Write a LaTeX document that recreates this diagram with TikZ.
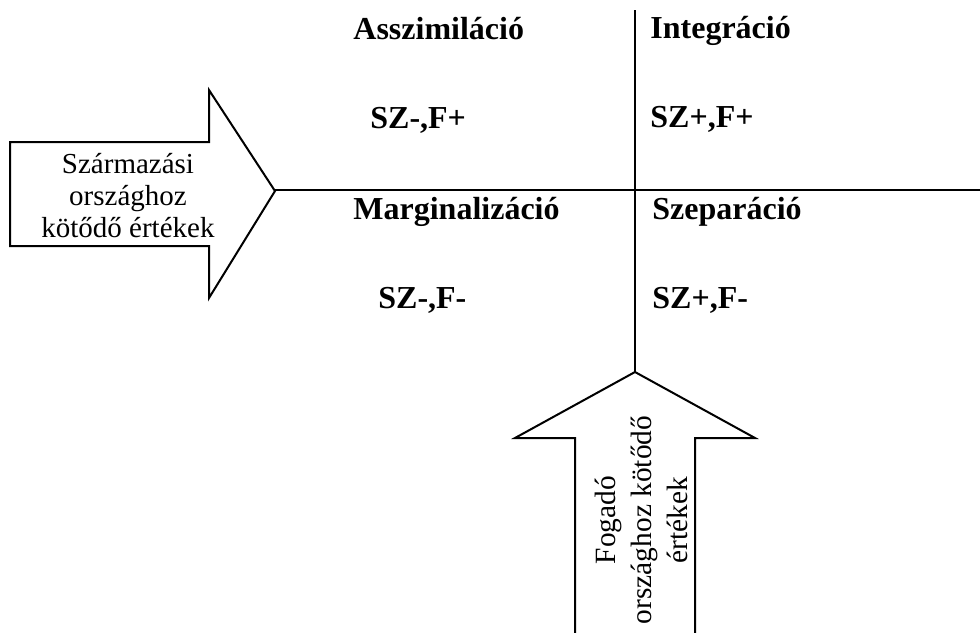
\documentclass[tikz,border=0pt]{standalone}
\usepackage{fontspec}
\setmainfont{Liberation Serif}
\begin{document}
\begin{tikzpicture}[x=0.5pt,y=-0.5pt,
  lbl/.style={anchor=base west,inner sep=0pt,font=\fontsize{16}{19}\selectfont\bfseries},
  arrtxt/.style={align=center,inner sep=0pt,font=\fontsize{14.5}{16}\selectfont},
  arrtxtb/.style={align=center,inner sep=0pt,font=\fontsize{14.7}{18}\selectfont},
  outline/.style={draw=black,line width=1pt,line join=miter},
  axis/.style={draw=black,line width=1.2pt}]
\useasboundingbox (0,0) rectangle (980,632);
% left arrow
\draw[outline] (10,142) -- (209,142) -- (209,90) -- (275,191) -- (209,298) -- (209,246) -- (10,246) -- cycle;
\coordinate (ltip) at (275,190);
\node[arrtxt] (ltext) at (128,196) {Származási\\országhoz\\kötődő értékek};
% bottom arrow
\draw[outline] (575,640) -- (575,438) -- (515,438) -- (635,372) -- (755,438) -- (695,438) -- (695,640);
\coordinate (btip) at (635,372);
\node[arrtxtb,rotate=90] (btext) at (641,520) {Fogadó\\országhoz kötődő\\értékek};
% axes
\coordinate (vtop) at (635,10);
\coordinate (hend) at (980,190);
\draw[axis] (vtop) -- (btip);
\draw[axis] (ltip) -- (hend);
% labels
\node[lbl] (asz) at (353,39) {Asszimiláció};
\node[lbl] (int) at (650,38) {Integráció};
\node[lbl] (szfp) at (370,128) {SZ-,F+};
\node[lbl] (szpp) at (650,127) {SZ+,F+};
\node[lbl] (mar) at (353,219) {Marginalizáció};
\node[lbl] (sze) at (652,219) {Szeparáció};
\node[lbl] (szmm) at (378,308) {SZ-,F-};
\node[lbl] (szpm) at (652,308) {SZ+,F-};
\end{tikzpicture}
\end{document}
